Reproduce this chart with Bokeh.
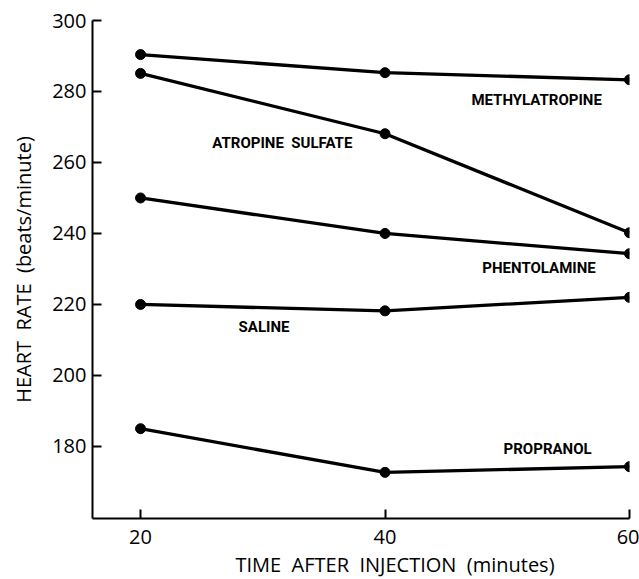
from bokeh.plotting import figure
from bokeh.models import Range1d, FixedTicker, Title, ColumnDataSource
from bokeh.embed import file_html
from bokeh.resources import INLINE
from bokeh.core.properties import value

# ---- data ----
times = [20, 40, 60]
methylatropine = [290.4, 285.3, 283.3]
atropine_sulfate = [285.1, 268.1, 240.2]
phentolamine = [250.0, 240.0, 234.3]
saline = [220.0, 218.2, 222.0]
propranol = [185.0, 172.7, 174.3]
series = [methylatropine, atropine_sulfate, phentolamine, saline, propranol]
NB = "\u00a0"
series_names = ["METHYLATROPINE", "ATROPINE" + NB * 2 + "SULFATE", "PHENTOLAMINE", "SALINE", "PROPRANOL"]
y_ticks = [180, 200, 220, 240, 260, 280, 300]
x_ticks = [20, 40, 60]

# label anchor positions (data coordinates)
label_x = [52.4, 31.6, 52.6, 30.1, 53.3]
label_y = [277.7, 265.5, 230.3, 213.7, 179.2]

FONT = "Open Sans"
LFONT = "Roboto"

p = figure(width=639, height=579, output_backend="svg", toolbar_location=None,
           x_range=Range1d(16.07, 60), y_range=Range1d(159.7, 300),
           min_border_left=92, min_border_right=10, min_border_top=20,
           min_border_bottom=0)
p.outline_line_color = None
p.grid.grid_line_color = None
p.background_fill_color = "white"
p.border_fill_color = "white"

for ys in series:
    p.line(times, ys, line_color="black", line_width=3.3)
    p.scatter(times, ys, size=10, fill_color="black", line_color="black")

src = ColumnDataSource(dict(x=label_x, y=label_y, t=series_names))
p.text(x="x", y="y", text="t", source=src, text_font=value(LFONT),
       text_font_size="15px", text_font_style="bold", text_align="center",
       text_baseline="middle", text_color="black")

for ax in (p.xaxis[0], p.yaxis[0]):
    ax.axis_line_width = 2
    ax.axis_line_color = "black"
    ax.major_tick_in = 9
    ax.major_tick_out = 0
    ax.major_tick_line_width = 2
    ax.major_tick_line_color = "black"
    ax.minor_tick_line_color = None
    ax.major_label_text_font = FONT
    ax.major_label_text_font_size = "20px"
    ax.major_label_text_color = "black"

p.yaxis[0].ticker = FixedTicker(ticks=y_ticks)
p.xaxis[0].ticker = FixedTicker(ticks=x_ticks)
p.yaxis[0].major_label_standoff = 6
p.xaxis[0].major_label_standoff = 11

p.yaxis[0].axis_label = "HEART" + NB * 2 + "RATE" + NB * 2 + "(beats/minute)"
p.yaxis[0].axis_label_text_font = FONT
p.yaxis[0].axis_label_text_font_size = "20px"
p.yaxis[0].axis_label_text_font_style = "normal"
p.yaxis[0].axis_label_text_color = "black"
p.yaxis[0].axis_label_standoff = 12

xtitle = Title(text="TIME" + NB * 2 + "AFTER" + NB * 2 + "INJECTION" + NB * 2 + "(minutes)",
               align="left", offset=143, standoff=4,
               text_font=FONT, text_font_size="20px", text_font_style="normal",
               text_color="black")
p.add_layout(xtitle, "below")

open("out.html", "w").write(file_html(p, INLINE))
